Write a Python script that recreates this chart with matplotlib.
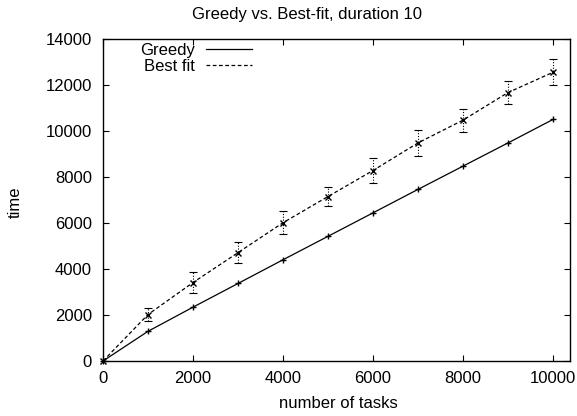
import matplotlib
matplotlib.use('Agg')
import matplotlib.pyplot as plt
from matplotlib.lines import Line2D

plt.rcParams['font.family'] = ['Liberation Sans', 'DejaVu Sans']

# 数据
tasks = [0, 1000, 2000, 3000, 4000, 5000, 6000, 7000, 8000, 9000, 10000]
greedy = [0, 1290, 2340, 3370, 4400, 5420, 6440, 7460, 8470, 9480, 10500]
best_fit = [0, 2020, 3410, 4710, 6010, 7150, 8280, 9480, 10470, 11670, 12550]
best_err = [0, 300, 450, 450, 500, 420, 550, 560, 500, 500, 560]

fig = plt.figure(figsize=(5.77, 4.16), dpi=100)
ax = fig.add_axes([103/577, 55/416, 467/577, 322/416])

# 误差线（点线）
eb = ax.errorbar(tasks, best_fit, yerr=best_err, fmt='none', ecolor='black',
                 elinewidth=0.8, capsize=3, capthick=0.8)
for c in eb[2]:
    c.set_linestyle((0, (1, 1.5)))

ax.plot(tasks, greedy, color='black', linewidth=0.9, marker='+', markersize=5,
        markeredgewidth=1.0, label='Greedy', clip_on=False)
ax.plot(tasks, best_fit, color='black', linewidth=0.9, linestyle=(0, (3, 2)),
        marker='x', markersize=5, markeredgewidth=1.0, label='Best fit', clip_on=False)

ax.set_xlim(0, 10380)
ax.set_ylim(0, 14000)
ax.set_xticks(range(0, 10001, 2000))
ax.set_yticks(range(0, 14001, 2000))
ax.tick_params(direction='in', top=True, right=True, length=4, labelsize=12)
ax.tick_params(axis='x', pad=7)
ax.tick_params(axis='y', pad=8)
for s in ax.spines.values():
    s.set_linewidth(1.0)

# 标题和坐标轴标签
fig.text(307/577, 1 - 15/416, 'Greedy vs. Best-fit, duration 10', fontsize=12,
         ha='center', va='center')
fig.text(338/577, 1 - 404/416, 'number of tasks', fontsize=12, ha='center', va='center')
fig.text(15/577, 1 - 202/416, 'time', fontsize=12, rotation=90, ha='center', va='center')

handles = [Line2D([], [], color='black', linewidth=0.9),
           Line2D([], [], color='black', linewidth=0.9, linestyle=(0, (3, 2)))]
ax.legend(handles, ['Greedy', 'Best fit'], loc='upper left', frameon=False,
          markerfirst=False, fontsize=12, handlelength=2.76, handletextpad=0.66,
          labelspacing=0.05, borderpad=0, borderaxespad=0,
          bbox_to_anchor=(140/577, 1 - 43/416), bbox_transform=fig.transFigure)

fig.savefig('out.png', dpi=100)
